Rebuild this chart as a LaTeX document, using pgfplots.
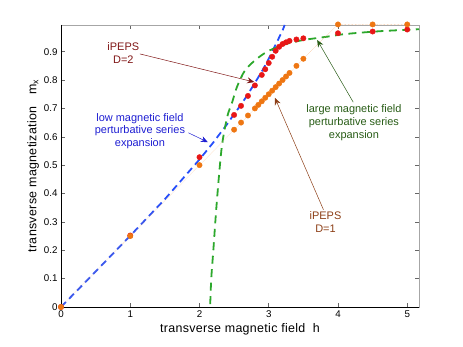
\documentclass[border=0pt]{standalone}
\usepackage{fontspec}
\setmainfont{Liberation Sans}
\newfontfamily\labelfont[LetterSpace=2.5]{Liberation Sans}
\usepackage{pgfplots}
\pgfplotsset{compat=1.18}
\usetikzlibrary{arrows.meta}

\definecolor{dotred}{RGB}{232,22,22}
\definecolor{dotorange}{RGB}{238,118,18}
\definecolor{lowblue}{RGB}{38,78,250}
\definecolor{highgreen}{RGB}{44,168,44}
\definecolor{txtred}{RGB}{128,22,22}
\definecolor{txtblue}{RGB}{30,30,210}
\definecolor{txtgreen}{RGB}{40,92,22}
\definecolor{txtbrown}{RGB}{140,62,22}

\newcommand{\lbl}{\fontsize{11}{12.8}\selectfont}
\newcommand{\tck}{\fontsize{9.8}{11}\selectfont}
\newcommand{\axl}{\labelfont\fontsize{12.5}{14}\selectfont}

\begin{document}
\begin{tikzpicture}
\begin{axis}[
  name=ax,
  scale only axis,
  width=358bp, height=282bp,
  xmin=0, xmax=5.17, ymin=0, ymax=0.994,
  xtick={0,1,2,3,4,5},
  ytick={0,0.1,0.2,0.3,0.4,0.5,0.6,0.7,0.8,0.9},
  yticklabel style={/pgf/number format/fixed, /pgf/number format/precision=1},
  /pgf/number format/assume math mode=true,
  tick label style={font=\tck},
  label style={font=\axl},
  tick align=inside, major tick length=4bp,
  axis line style={gray!70, line width=0.6pt},
  every tick/.style={gray!80!black, line width=0.5pt},
  xlabel={transverse magnetic field\ \ h},
  ylabel={transverse magnetization\ \ \ m\textsubscript{x}},
  xlabel style={yshift=1bp},
  ylabel style={yshift=-2bp},
  clip=false,
]
% low magnetic field series
\addplot[lowblue, line width=1.8pt, dash pattern=on 7bp off 4.5bp] coordinates {
  (0,0) (0.5,0.125) (1,0.251) (1.5,0.38) (2,0.52) (2.2,0.58) (2.4,0.645)
  (2.5,0.68) (2.6,0.713) (2.7,0.75) (2.8,0.79) (2.9,0.83) (3.0,0.875)
  (3.1,0.925) (3.2,0.975) (3.23,0.994)
};
% large magnetic field series
\addplot[highgreen, line width=1.8pt, dash pattern=on 8bp off 5.5bp, smooth] coordinates {
  (2.155,0.01) (2.17,0.1) (2.2,0.2) (2.25,0.37) (2.32,0.56) (2.4,0.67)
  (2.47,0.72) (2.54,0.775) (2.66,0.835) (2.83,0.875) (3.0,0.903)
  (3.25,0.927) (3.5,0.941) (3.85,0.953) (4.1,0.962) (4.6,0.972) (5.17,0.979)
};
% iPEPS D=2
\addplot[only marks, mark=*, mark size=2.7bp, dotred, mark options={draw=dotred, fill=dotred}] coordinates {
  (0,0) (1,0.252) (2,0.528) (2.5,0.677) (2.6,0.709) (2.7,0.744) (2.8,0.781)
  (2.9,0.818) (2.95,0.838) (3.0,0.860) (3.05,0.882) (3.1,0.903) (3.15,0.917)
  (3.2,0.927) (3.25,0.933) (3.3,0.938) (3.4,0.943) (3.5,0.947)
  (4,0.965) (4.5,0.971) (5,0.978)
};
% iPEPS D=1
\addplot[dotorange!60, densely dotted, line width=0.4pt, mark=*, mark size=2.7bp,
  mark options={solid, draw=dotorange, fill=dotorange}] coordinates {
  (0,0) (1,0.25) (2,0.5) (2.5,0.625) (2.6,0.65) (2.7,0.675) (2.8,0.7)
  (2.85,0.7125) (2.9,0.725) (2.95,0.7375) (3.0,0.75) (3.05,0.7625)
  (3.1,0.775) (3.15,0.7875) (3.2,0.8) (3.25,0.8125) (3.3,0.825)
  (3.4,0.85) (3.5,0.875) (4,0.996) (4.5,0.996) (5,0.996)
};
% black bottom and left axis lines
\draw[black, line width=0.7pt] (rel axis cs:0,1) -- (rel axis cs:0,0) -- (rel axis cs:1,0);
% annotations
\node[txtred, align=center, font=\lbl] at (axis cs:0.9,0.894) {iPEPS\\D=2};
\draw[txtred, line width=0.5pt, -{Stealth[length=7bp,width=6bp]}] (axis cs:1.14,0.892) -- (axis cs:2.79,0.793);
\node[txtblue, align=center, font=\lbl] at (axis cs:1.14,0.62) {low magnetic field\\perturbative series\\expansion};
\draw[txtblue, line width=0.5pt, -{Stealth[length=7bp,width=6bp]}] (axis cs:1.84,0.614) -- (axis cs:2.12,0.581);
\node[txtgreen, align=center, font=\lbl] at (axis cs:4.23,0.649) {large magnetic field\\perturbative series\\expansion};
\draw[txtgreen, line width=0.5pt, -{Stealth[length=7bp,width=6bp]}] (axis cs:4.22,0.722) -- (axis cs:3.70,0.941);
\node[txtbrown, align=center, font=\lbl] at (axis cs:3.82,0.299) {iPEPS\\D=1};
\draw[txtbrown, line width=0.5pt, -{Stealth[length=7bp,width=6bp]}] (axis cs:3.79,0.343) -- (axis cs:3.09,0.737);
\end{axis}
\path[use as bounding box] ([xshift=-61bp,yshift=-40bp]ax.south west) rectangle ([xshift=44bp,yshift=25bp]ax.north east);
\end{tikzpicture}
\end{document}
